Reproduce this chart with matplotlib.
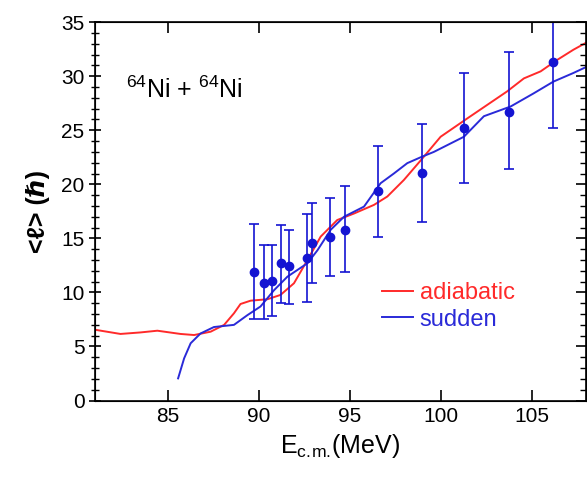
import matplotlib
matplotlib.use("Agg")
import matplotlib.pyplot as plt
from matplotlib.ticker import MultipleLocator

plt.rcParams['font.family'] = ['Liberation Sans', 'DejaVu Sans']
plt.rcParams['mathtext.fontset'] = 'custom'
plt.rcParams['mathtext.rm'] = 'Liberation Sans'
plt.rcParams['mathtext.it'] = 'Liberation Sans:italic'

# Experimental data
exp_E = [89.74, 90.27, 90.75, 91.25, 91.65, 92.64, 92.95, 93.92, 94.74, 96.56, 98.96, 101.3, 103.75, 106.2]
exp_L = [11.9, 10.9, 11.05, 12.7, 12.4, 13.2, 14.6, 15.1, 15.8, 19.35, 21.05, 25.2, 26.7, 31.3]
exp_lo = [7.5, 7.5, 7.8, 9.0, 8.9, 9.1, 10.9, 11.5, 11.9, 15.1, 16.5, 20.1, 21.4, 25.2]
exp_hi = [16.3, 14.4, 14.35, 16.2, 15.8, 17.3, 18.3, 18.7, 19.8, 23.5, 25.6, 30.3, 32.2, 36.0]

# Adiabatic calculation
adi_E = [81.0, 82.4, 83.5, 84.43, 85.7, 86.45, 87.36, 88.1, 88.64, 89.0, 89.56, 90.48, 91.2,
         91.94, 92.68, 93.41, 94.32, 95.24, 96.34, 97.07, 97.98, 98.9, 100.0, 101.47,
         103.66, 104.58, 105.5, 106.4, 107.3, 108.0]
adi_L = [6.55, 6.16, 6.3, 6.46, 6.16, 6.06, 6.37, 7.0, 8.07, 8.93, 9.24, 9.37, 9.77,
         10.85, 13.0, 15.17, 16.7, 17.3, 18.1, 18.87, 20.4, 22.2, 24.4, 26.1,
         28.6, 29.8, 30.45, 31.5, 32.45, 33.1]

# Sudden calculation
sud_E = [85.57, 85.9, 86.26, 86.8, 87.54, 88.64, 89.38, 90.1, 90.84, 91.58, 92.68, 93.23,
         93.96, 94.69, 95.79, 96.7, 97.43, 98.17, 98.9, 99.63, 101.28, 102.38, 103.85,
         105.1, 106.2, 107.3, 108.0]
sud_L = [2.05, 3.9, 5.3, 6.2, 6.8, 7.0, 7.9, 8.7, 10.2, 11.46, 12.7, 13.9,
         15.8, 17.0, 17.94, 20.1, 21.0, 21.96, 22.5, 23.0, 24.4, 26.3, 27.2,
         28.4, 29.5, 30.3, 30.85]

fig = plt.figure(figsize=(5.87, 4.82), dpi=100)
ax = fig.add_axes([0.1618, 0.169, 0.8367, 0.785])

ax.plot(adi_E, adi_L, color='#ff2a2a', lw=1.4, label='adiabatic')
ax.plot(sud_E, sud_L, color='#2a2ad8', lw=1.4, label='sudden')
yerr = [[l - lo for l, lo in zip(exp_L, exp_lo)], [hi - l for l, hi in zip(exp_L, exp_hi)]]
ax.errorbar(exp_E, exp_L, yerr=yerr, fmt='o', color='#1414d2', ms=6, elinewidth=1.2,
            capsize=3.5, capthick=1.2, clip_on=True)

ax.set_xlim(81, 108)
ax.set_ylim(0, 35)
ax.xaxis.set_major_locator(MultipleLocator(5))
ax.yaxis.set_major_locator(MultipleLocator(5))
ax.yaxis.set_minor_locator(MultipleLocator(1))

ax.tick_params(axis='x', which='major', direction='in', top=True, bottom=True, length=8,
               width=1.2, labelsize=15, pad=5)
ax.tick_params(axis='y', which='major', direction='inout', left=True, right=False, length=9,
               width=1.2, labelsize=15, pad=3)
ax.tick_params(axis='y', which='minor', direction='inout', left=True, right=False, length=6,
               width=1.0)
for s in ax.spines.values():
    s.set_linewidth(1.2)

ax2 = ax.twinx()
ax2.set_ylim(0, 35)
ax2.yaxis.set_major_locator(MultipleLocator(5))
ax2.yaxis.set_minor_locator(MultipleLocator(1))
ax2.tick_params(axis='y', which='major', direction='in', length=7, width=1.2, labelright=False)
ax2.tick_params(axis='y', which='minor', direction='in', length=4, width=1.0)

ax.set_xlabel(r'E$_{\mathregular{c.\!m.\!}}$(MeV)', fontsize=18, labelpad=4)
ax.set_ylabel('<\u2113> (\u210f)', fontsize=18, fontweight='bold', labelpad=8)

ax.text(82.7, 28.0, r'$^{\mathregular{64}}$Ni + $^{\mathregular{64}}$Ni', fontsize=18)

leg = ax.legend(loc='upper left', bbox_to_anchor=(0.56, 0.345), frameon=False, fontsize=17,
                handlelength=1.3, handletextpad=0.3, labelspacing=0.2, borderpad=0)
for txt, c in zip(leg.get_texts(), ['#ff2a2a', '#2a2ad8']):
    txt.set_color(c)

fig.savefig('out.png', dpi=100)
